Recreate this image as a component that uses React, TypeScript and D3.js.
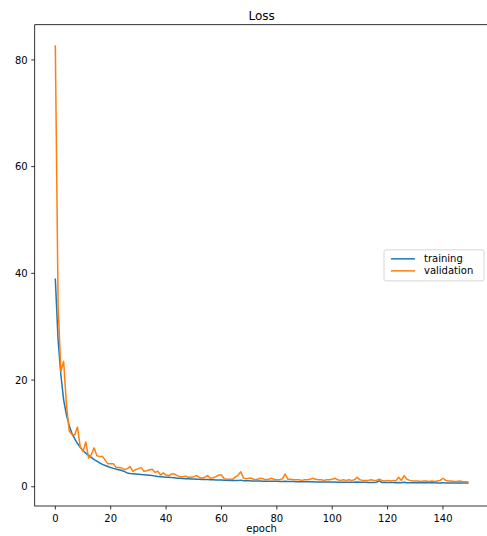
import * as d3 from 'd3'

const width = 487
const height = 536

// axes box in page pixels (right spine sits just past the picture edge)
const box = { left: 34.7, right: 488.5, top: 24.7, bottom: 506 }

const training = [
  38.9, 27.5, 21.0, 16.3, 13.5, 11.5, 10.0, 9.0, 8.1, 7.4,
  6.8, 6.3, 5.9, 5.5, 5.1, 4.8, 4.5, 4.2, 4.0, 3.8,
  3.6, 3.45, 3.3, 3.2, 3.05, 2.85, 2.6, 2.5, 2.45, 2.4,
  2.35, 2.3, 2.25, 2.2, 2.15, 2.1, 2.0, 1.95, 1.9, 1.85,
  1.8, 1.78, 1.72, 1.68, 1.62, 1.58, 1.55, 1.52, 1.5, 1.47,
  1.45, 1.42, 1.4, 1.38, 1.36, 1.35, 1.33, 1.3, 1.28, 1.27,
  1.25, 1.24, 1.22, 1.2, 1.19, 1.18, 1.17, 1.25, 1.15, 1.13,
  1.12, 1.1, 1.1, 1.08, 1.07, 1.06, 1.06, 1.04, 1.03, 1.02,
  1.02, 1.0, 1.0, 1.05, 0.98, 0.97, 0.97, 0.96, 0.95, 0.95,
  0.94, 0.93, 0.93, 0.95, 0.92, 0.91, 0.9, 0.9, 0.9, 0.89,
  0.88, 0.88, 0.87, 0.87, 0.86, 0.86, 0.85, 0.85, 0.84, 0.9,
  0.84, 0.83, 0.83, 0.82, 0.82, 0.82, 0.85, 1.1, 0.8, 0.8,
  0.8, 0.79, 0.79, 0.78, 0.82, 0.78, 0.85, 0.77, 0.77, 0.76,
  0.76, 0.76, 0.75, 0.75, 0.8, 0.74, 0.74, 0.74, 0.73, 0.73,
  0.78, 0.72, 0.72, 0.72, 0.71, 0.71, 0.7, 0.7, 0.7, 0.69,
]

const validation = [
  82.6, 34.0, 21.6, 23.5, 15.5, 10.5, 9.8, 9.7, 11.2, 7.5,
  6.6, 8.4, 5.4, 6.0, 7.3, 5.8, 5.7, 5.7, 5.0, 4.3,
  4.3, 4.3, 3.6, 3.6, 3.5, 3.2, 3.4, 3.8, 2.9, 3.2,
  3.4, 3.6, 2.9, 3.0, 3.2, 3.3, 2.7, 2.9, 2.2, 2.6,
  2.2, 2.1, 2.4, 2.4, 2.1, 1.9, 1.9, 2.0, 1.8, 1.8,
  1.9, 2.1, 1.8, 1.6, 1.8, 2.1, 1.6, 1.7, 1.9, 2.2,
  2.2, 1.5, 1.4, 1.4, 1.4, 1.8, 2.2, 2.8, 1.6, 1.5,
  1.6, 1.6, 1.3, 1.4, 1.6, 1.5, 1.3, 1.4, 1.6, 1.4,
  1.3, 1.3, 1.5, 2.4, 1.4, 1.4, 1.3, 1.3, 1.3, 1.2,
  1.3, 1.3, 1.4, 1.6, 1.4, 1.3, 1.3, 1.2, 1.3, 1.3,
  1.4, 1.6, 1.3, 1.2, 1.3, 1.2, 1.3, 1.2, 1.3, 1.8,
  1.3, 1.2, 1.2, 1.2, 1.3, 1.2, 1.2, 1.4, 1.2, 1.1,
  1.2, 1.1, 1.2, 1.1, 1.8, 1.2, 2.1, 1.4, 1.2, 1.1,
  1.1, 1.1, 1.0, 1.1, 1.1, 1.0, 1.1, 1.0, 1.1, 1.2,
  1.6, 1.2, 1.1, 1.1, 1.0, 1.0, 1.1, 1.0, 0.95, 0.9,
]

const xTicks = [0, 20, 40, 60, 80, 100, 120, 140]
const yTicks = [0, 20, 40, 60, 80]

const seriesNames = ['training', 'validation']
const seriesColors = ['#1f77b4', '#ff7f0e']

const font = 'DejaVu Sans, sans-serif'

const App = () => {
  const xScale = d3.scaleLinear().domain([-7.45, 156.45]).range([box.left, box.right])
  const yScale = d3.scaleLinear().domain([-3.6, 86.6]).range([box.bottom, box.top])

  const line = d3
    .line<number>()
    .x((d, i) => xScale(i))
    .y((d) => yScale(d))

  const series = [training, validation]

  // legend, center right
  const legW = 100
  const legH = 31
  const legX = box.right - 4.5 - legW
  const legY = (box.top + box.bottom) / 2 - legH / 2

  return (
    <svg
      width={width}
      height={height}
      style={{ position: 'absolute', left: 0, top: 0, background: '#fff' }}
      fontFamily={font}
    >
      <text x={(box.left + box.right) / 2} y={20} textAnchor="middle" fontSize={12}>
        Loss
      </text>

      {series.map((s, i) => (
        <path
          key={seriesNames[i]}
          d={line(s) ?? ''}
          fill="none"
          stroke={seriesColors[i]}
          strokeWidth={1.5}
          strokeLinejoin="round"
          strokeLinecap="square"
        />
      ))}

      <rect
        x={box.left}
        y={box.top}
        width={box.right - box.left}
        height={box.bottom - box.top}
        fill="none"
        stroke="#000"
        strokeWidth={0.8}
      />

      {xTicks.map((t) => (
        <g key={'x' + t}>
          <line x1={xScale(t)} x2={xScale(t)} y1={box.bottom} y2={box.bottom + 3.5} stroke="#000" strokeWidth={0.8} />
          <text x={xScale(t)} y={box.bottom + 16} textAnchor="middle" fontSize={10}>
            {t}
          </text>
        </g>
      ))}
      {yTicks.map((t) => (
        <g key={'y' + t}>
          <line x1={box.left - 3.5} x2={box.left} y1={yScale(t)} y2={yScale(t)} stroke="#000" strokeWidth={0.8} />
          <text x={box.left - 7} y={yScale(t) + 3.6} textAnchor="end" fontSize={10}>
            {t}
          </text>
        </g>
      ))}

      <text x={(box.left + box.right) / 2} y={532} textAnchor="middle" fontSize={10}>
        epoch
      </text>

      <g transform={`translate(${legX},${legY})`}>
        <rect width={legW} height={legH} rx={2} fill="#fff" fillOpacity={0.8} stroke="#ccc" strokeWidth={0.8} />
        {seriesNames.map((n, i) => (
          <g key={n} transform={`translate(0,${9 + i * 12})`}>
            <line x1={7} x2={31} y1={0} y2={0} stroke={seriesColors[i]} strokeWidth={1.5} />
            <text x={40} y={3.6} fontSize={10}>
              {n}
            </text>
          </g>
        ))}
      </g>
    </svg>
  )
}

export default App
